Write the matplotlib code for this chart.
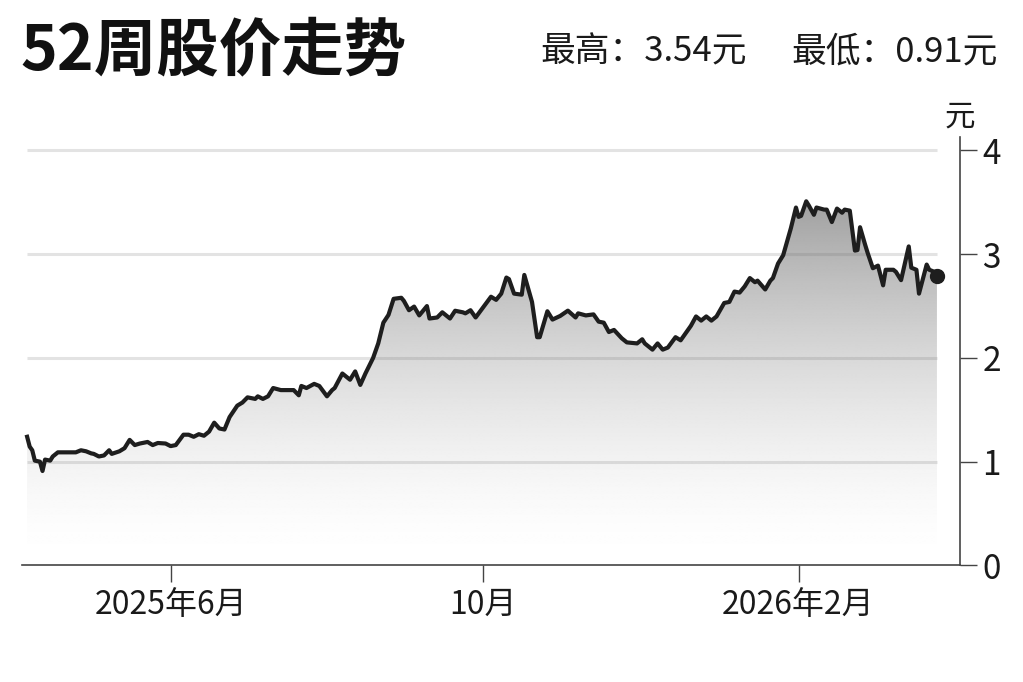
import numpy as np
import matplotlib
matplotlib.use("Agg")
import matplotlib.pyplot as plt
import matplotlib.dates as mdates
from matplotlib.patches import Polygon

# ---------------- data ----------------
start_date = "2025-04-04"
end_date = "2026-04-05"
day_offsets = [2, 3, 4, 5, 7, 8, 9, 11, 12, 14, 21, 23, 25, 27, 28, 30, 32, 34, 35, 38,
               40, 42, 44, 46, 49, 51, 53, 56, 58, 60, 63, 65, 67, 69, 71, 73, 75, 77, 79, 81,
               84, 86, 88, 91, 92, 94, 96, 98, 101, 106, 108, 109, 111, 114, 116, 119, 121, 122, 125, 128,
               130, 132, 134, 137, 139, 141, 143, 145, 148, 149, 151, 153, 155, 158, 159, 162, 164, 167, 169, 172,
               173, 175, 177, 180, 183, 185, 187, 189, 190, 192, 195, 196, 199, 201, 202, 205, 207, 210, 213, 216,
               217, 220, 223, 225, 227, 229, 231, 234, 236, 240, 242, 243, 246, 248, 250, 252, 255, 257, 259, 261,
               263, 265, 267, 269, 271, 274, 276, 278, 280, 282, 284, 286, 287, 290, 292, 293, 295, 297, 300, 302,
               303, 304, 306, 307, 309, 310, 313, 314, 316, 318, 320, 321, 323, 325, 326, 327, 329, 330, 332, 334,
               336, 337, 340, 341, 343, 346, 347, 349, 350, 353, 354, 356, 357]
prices = [1.24, 1.145, 1.11, 1.01, 1.00, 0.91, 1.02, 1.01, 1.05, 1.09, 1.09, 1.11, 1.10, 1.08, 1.075, 1.05, 1.06, 1.11, 1.075, 1.10,
          1.13, 1.21, 1.16, 1.175, 1.19, 1.16, 1.18, 1.175, 1.15, 1.16, 1.26, 1.26, 1.24, 1.265, 1.25, 1.29, 1.376, 1.32, 1.31, 1.43,
          1.54, 1.57, 1.62, 1.605, 1.63, 1.605, 1.63, 1.71, 1.69, 1.69, 1.64, 1.73, 1.71, 1.75, 1.73, 1.63, 1.69, 1.71, 1.85, 1.79,
          1.87, 1.74, 1.85, 2.00, 2.14, 2.34, 2.415, 2.57, 2.58, 2.55, 2.46, 2.495, 2.41, 2.50, 2.38, 2.39, 2.44, 2.38, 2.455, 2.44,
          2.43, 2.46, 2.39, 2.49, 2.59, 2.56, 2.62, 2.775, 2.76, 2.62, 2.61, 2.80, 2.54, 2.20, 2.20, 2.45, 2.37, 2.405, 2.456, 2.39,
          2.43, 2.41, 2.42, 2.35, 2.34, 2.25, 2.27, 2.19, 2.15, 2.14, 2.18, 2.14, 2.08, 2.14, 2.08, 2.10, 2.20, 2.17, 2.24, 2.31,
          2.40, 2.36, 2.40, 2.36, 2.40, 2.53, 2.54, 2.64, 2.63, 2.69, 2.77, 2.73, 2.745, 2.66, 2.745, 2.77, 2.91, 2.99, 3.25, 3.45,
          3.36, 3.37, 3.51, 3.47, 3.38, 3.45, 3.43, 3.43, 3.31, 3.44, 3.40, 3.43, 3.42, 3.035, 3.04, 3.26, 3.09, 3.01, 2.865, 2.89,
          2.70, 2.85, 2.85, 2.83, 2.75, 3.075, 2.87, 2.85, 2.62, 2.90, 2.85, 2.83, 2.79]
tick_dates = ["2025-06-01", "2025-10-01", "2026-02-01"]
tick_labels = ["2025年6月", "10月", "2026年2月"]
y_ticks = [0, 1, 2, 3, 4]
grid_levels = [1, 2, 3, 4]
title = "52周股价走势"
high_text = "最高：3.54元"
low_text = "最低：0.91元"
unit_text = "元"

# ---------------- style ----------------
FONT = ["Noto Sans CJK SC", "DejaVu Sans"]
plt.rcParams['font.family'] = FONT
W, H = 1023, 682

dates = np.datetime64(start_date) + np.array(day_offsets).astype('timedelta64[D]')
x = mdates.date2num(dates)
y = np.array(prices)

fig = plt.figure(figsize=(W / 100, H / 100), dpi=100)
fig.patch.set_facecolor("white")
ax = fig.add_axes([22 / W, 116.6 / H, 938 / W, 428.4 / H])
xmin = mdates.date2num(np.datetime64(start_date))
xmax = mdates.date2num(np.datetime64(end_date))
ax.set_xlim(xmin, xmax)
ax.set_ylim(0, 4.13)

# gradient fill under the line
vv = np.linspace(0, 4.13, 400)
gray = np.clip(1 - 0.37 * (vv / 3.5) ** 1.6, 0, 1)
grad = np.tile(gray[:, None], (1, 2))
im = ax.imshow(grad, extent=[x[0], x[-1], 0, 4.13], origin='lower', aspect='auto',
               cmap='gray', vmin=0, vmax=1, zorder=1, interpolation='bilinear')
verts = np.vstack([np.column_stack([x, y]), [[x[-1], 0], [x[0], 0]]])
poly = Polygon(verts, closed=True, facecolor='none', edgecolor='none')
ax.add_patch(poly)
im.set_clip_path(poly)

# grid
ax.hlines(grid_levels, x[0], x[-1], color=(0.45, 0.45, 0.45), alpha=0.2, lw=2.2, zorder=2)

# line and end dot
ax.plot(x, y, color='#1e1e1e', lw=3.0, zorder=3, solid_joinstyle='round')
ax.plot(x[-1], y[-1], 'o', color='#1e1e1e', ms=10, zorder=4)

# axes
for s in ['left', 'top']:
    ax.spines[s].set_visible(False)
for s in ['bottom', 'right']:
    ax.spines[s].set_color('#444444')
    ax.spines[s].set_linewidth(1.2)
ax.yaxis.tick_right()
ax.set_yticks(y_ticks)
ax.set_yticklabels([str(t) for t in y_ticks])
ax.set_xticks(mdates.date2num(np.array(tick_dates, dtype='datetime64[D]')))
ax.set_xticklabels(tick_labels)
ax.tick_params(axis='x', direction='out', length=12, width=1, color='#444444',
               pad=5, labelsize=23, labelcolor='#1a1a1a')
ax.tick_params(axis='y', direction='out', length=12, width=1, color='#444444',
               pad=4, labelsize=24, labelcolor='#1a1a1a')
ax.set_facecolor('none')

# texts
fig.text(20 / W, 1 - 51 / H, title, fontsize=45, fontweight='bold',
         family=["Noto Sans CJK SC", "DejaVu Sans"], va='center', ha='left', color='#111111')
fig.text(747 / W, 1 - 52 / H, high_text, fontsize=25, va='center', ha='right', color='#1a1a1a')
fig.text(998 / W, 1 - 52 / H, low_text, fontsize=25, va='center', ha='right', color='#1a1a1a')
fig.text(960 / W, 1 - 117 / H, unit_text, fontsize=22, va='center', ha='center', color='#1a1a1a')

fig.savefig("out.png", dpi=100, facecolor='white')
